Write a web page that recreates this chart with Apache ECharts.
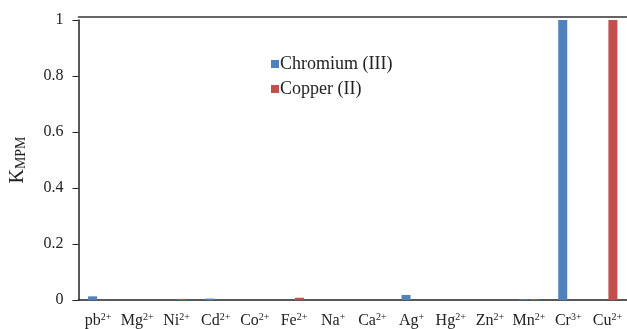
<!DOCTYPE html>
<html><head><meta charset="utf-8">
<script src="https://cdn.jsdelivr.net/npm/echarts@6/dist/echarts.min.js"></script>
<style>html,body{margin:0;padding:0;background:#fff}#c{width:627px;height:329px}</style>
</head><body><div id="c"></div>
<script>
const ionBases = ['pb','Mg','Ni','Cd','Co','Fe','Na','Ca','Ag','Hg','Zn','Mn','Cr','Cu'];
const ionCharges = ['2+','2+','2+','2+','2+','2+','+','2+','+','2+','2+','2+','3+','2+'];
const categories = ionBases.map((b,i)=>b+ionCharges[i]);
const chromium = [0.013,0,0,0.005,0,0,0,0,0.018,0,0,0.003,1,0];
const copper   = [0,0,0.004,0,0,0.008,0,0,0,0,0,0.003,0,1];
const yTicks = [0,0.2,0.4,0.6,0.8,1];

const chart = echarts.init(document.getElementById('c'));
const serif = '"Liberation Serif","DejaVu Serif",serif';
chart.setOption({
  animation:false,
  grid:{left:78,width:553,top:20,bottom:29,containLabel:false},
  legend:{
    orient:'vertical',left:266,top:50,itemWidth:8,itemHeight:8,itemGap:7,
    icon:'rect',
    textStyle:{fontFamily:serif,fontSize:18,lineHeight:16,color:'#222',padding:[0,0,0,-4]},
    data:['Chromium (III)','Copper (II)']
  },
  xAxis:[{
    type:'category',data:categories,
    axisLine:{lineStyle:{color:'#222',width:1.5}},
    axisTick:{show:false},
    axisLabel:{
      interval:0,margin:12,color:'#222',
      formatter:(v,i)=>'{b|'+ionBases[i]+'}{s|'+ionCharges[i]+'}',
      rich:{b:{fontFamily:serif,fontSize:16,color:'#222'},
            s:{fontFamily:serif,fontSize:10,color:'#222',verticalAlign:'top',padding:[0,0,7,0]}}
    }
  },{
    type:'category',data:categories,position:'top',offset:3,
    axisLine:{show:true,lineStyle:{color:'#333',width:1.5}},
    axisTick:{show:false},axisLabel:{show:false}
  }],
  yAxis:{
    type:'value',min:0,max:1,interval:0.2,
    name:'{k|K}{s|MPM}',nameLocation:'middle',nameRotate:90,nameGap:50,
    nameTextStyle:{rich:{k:{fontFamily:serif,fontSize:20,color:'#222'},
      s:{fontFamily:serif,fontSize:14,color:'#222',verticalAlign:'bottom',padding:[7,0,0,0]}}},
    axisLine:{show:true,lineStyle:{color:'#222',width:1.5}},
    axisTick:{show:true,length:6,lineStyle:{color:'#222'}},
    splitLine:{show:false},
    axisLabel:{margin:15,fontFamily:serif,fontSize:16,color:'#222',
      formatter:v=>{const t=yTicks.find(x=>Math.abs(x-v)<1e-9);return String(t===undefined?v:t);}}
  },
  series:[
    {name:'Chromium (III)',type:'bar',data:chromium,barWidth:9,barGap:'22%',itemStyle:{color:'#4F81BD'}},
    {name:'Copper (II)',type:'bar',data:copper,barWidth:9,barGap:'22%',itemStyle:{color:'#C0504D'}}
  ]
});
</script></body></html>
